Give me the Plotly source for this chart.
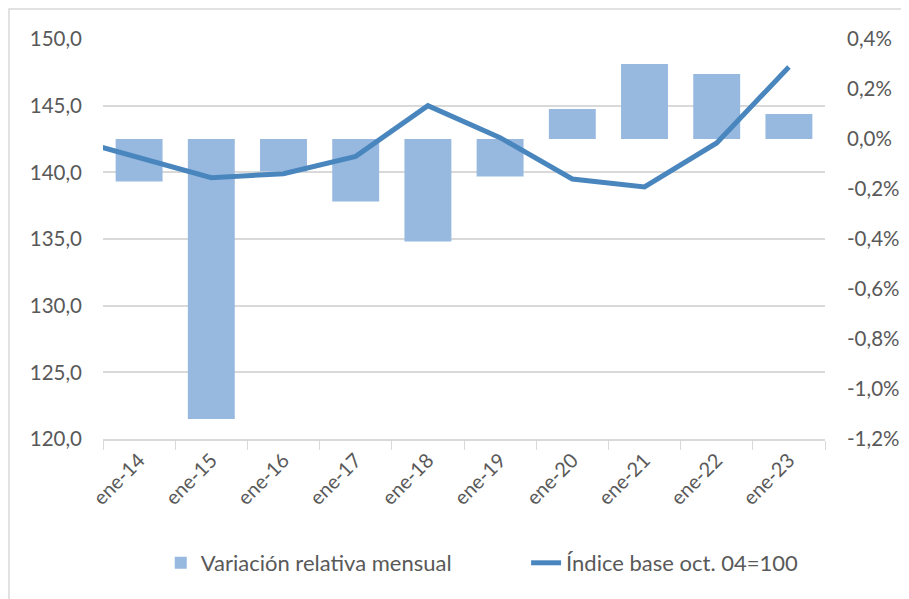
import plotly.graph_objects as go

# ---- data ----
categories = ["ene-14", "ene-15", "ene-16", "ene-17", "ene-18",
              "ene-19", "ene-20", "ene-21", "ene-22", "ene-23"]
variacion = [-0.0017, -0.0112, -0.0013, -0.0025, -0.0041,
             -0.0015, 0.0012, 0.0030, 0.0026, 0.0010]
# index series; first value is the (partially visible) point before ene-14
indice_prev = 142.6
indice = [141.1, 139.6, 139.9, 141.2, 145.0,
          142.6, 139.5, 138.9, 142.2, 147.9]

left_ticks = [120, 125, 130, 135, 140, 145, 150]
left_labels = ["120,0", "125,0", "130,0", "135,0", "140,0", "145,0", "150,0"]
right_ticks = [-0.012, -0.010, -0.008, -0.006, -0.004, -0.002, 0.0, 0.002, 0.004]
right_labels = ["-1,2%", "-1,0%", "-0,8%", "-0,6%", "-0,4%", "-0,2%", "0,0%", "0,2%", "0,4%"]

FONT = "Lato"
GRAY = "#595959"
BAR = "#97B9E0"
LINE = "#4A86BE"

pos = list(range(len(categories)))

fig = go.Figure()

# bars on the main (right-side) percentage axis
fig.add_trace(go.Bar(
    x=pos, y=variacion, name="Variación relativa mensual",
    marker=dict(color=BAR, line=dict(width=0)), width=0.65,
    yaxis="y", legend="legend",
))

# line on the overlaying left index axis (drawn on top)
fig.add_trace(go.Scatter(
    x=[-1] + pos, y=[indice_prev] + indice, name="Índice base oct. 04=100",
    mode="lines", line=dict(color=LINE, width=5),
    yaxis="y2", legend="legend2",
))

legend_style = dict(orientation="h", xanchor="left", y=-0.31, yanchor="middle",
                    font=dict(family=FONT, size=22, color=GRAY),
                    bgcolor="rgba(0,0,0,0)")

W, H = 901, 591  # page body has an 8px margin
fig.update_layout(
    width=W, height=H,
    margin=dict(l=95, r=84, t=31, b=160),
    paper_bgcolor="white", plot_bgcolor="white",
    font=dict(family=FONT, size=20, color=GRAY),
    showlegend=True,
    legend=dict(x=0.080, **legend_style),
    legend2=dict(x=0.586, **legend_style),
    xaxis=dict(range=[-0.5, 9.5], tickvals=pos, ticktext=categories, ticks="",
               minor=dict(tick0=-0.5, dtick=1, ticks="outside", ticklen=9,
                          tickcolor="#D9D9D9", showgrid=False),
               showline=True, linecolor="#D9D9D9", linewidth=1.5,
               showgrid=False, zeroline=False, tickangle=-45, automargin=False,
               tickfont=dict(size=20, color=GRAY)),
    yaxis=dict(side="right", range=[-0.012, 0.004],
               tickvals=right_ticks, ticktext=right_labels, showgrid=False,
               zeroline=False, showline=False, ticks="", ticklabelstandoff=21,
               automargin=False, tickfont=dict(size=20.5, color=GRAY)),
    yaxis2=dict(overlaying="y", side="left", range=[120, 150],
                tickvals=left_ticks, ticktext=left_labels,
                showgrid=True, gridcolor="#D9D9D9", gridwidth=1.5, zeroline=False,
                showline=False, ticks="", ticklabelstandoff=20, automargin=False,
                tickfont=dict(size=20.5, color=GRAY)),
    shapes=[dict(type="rect", xref="paper", yref="paper",
                 x0=(1 - 95) / 722, x1=1.3, y0=-0.6, y1=(439 - 9) / 400,
                 line=dict(color="#D9D9D9", width=1.5), fillcolor="rgba(0,0,0,0)",
                 layer="below")],
)

fig.write_html("out.html")
